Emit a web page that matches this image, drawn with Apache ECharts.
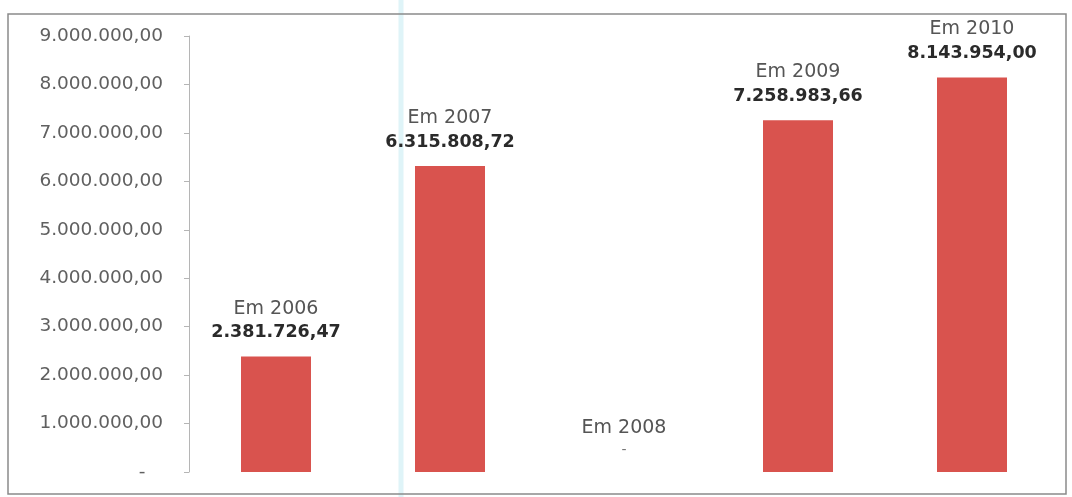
<!DOCTYPE html>
<html>
<head>
<meta charset="utf-8">
<script src="https://cdn.jsdelivr.net/npm/echarts@6/dist/echarts.min.js"></script>
<style>
  html, body { margin: 0; padding: 0; background: #ffffff; }
  #chart { width: 1072px; height: 497px; }
</style>
</head>
<body>
<div id="chart"></div>
<script>
// Annual amounts, one bar per year
const years = ['2006', '2007', '2008', '2009', '2010'];
const amounts = [2381726.47, 6315808.72, 0, 7258983.66, 8143954.00];
const yTicks = [0, 1000000, 2000000, 3000000, 4000000, 5000000, 6000000, 7000000, 8000000, 9000000];

// Brazilian number format: 1.234.567,89 ; zero shown as "-"
function fmtBR(v) {
  if (v === 0) return '-';
  const parts = v.toFixed(2).split('.');
  const intPart = parts[0].replace(/\B(?=(\d{3})+(?!\d))/g, '.');
  return intPart + ',' + parts[1];
}

const FONT = '"DejaVu Sans", "Open Sans", sans-serif';
const chart = echarts.init(document.getElementById('chart'), null, { renderer: 'canvas' });

chart.setOption({
  animation: false,
  backgroundColor: '#ffffff',
  grid: { left: 189, right: 13, top: 36, bottom: 25, containLabel: false },
  graphic: [
    {
      type: 'rect',
      shape: { x: 8, y: 14, width: 1058, height: 480 },
      style: { fill: 'none', stroke: '#8a8a8a', lineWidth: 1.5 },
      silent: true
    },
    {
      type: 'line',
      shape: { x1: 401, y1: 0, x2: 401, y2: 497 },
      style: { stroke: '#dff4f8', lineWidth: 5 },
      silent: true,
      z: -1
    }
  ],
  xAxis: {
    type: 'category',
    data: years,
    axisLine: { show: false },
    axisTick: { show: false },
    axisLabel: { show: false }
  },
  yAxis: {
    type: 'value',
    min: yTicks[0],
    max: yTicks[yTicks.length - 1],
    interval: yTicks[1] - yTicks[0],
    splitLine: { show: false },
    axisLine: { show: true, lineStyle: { color: '#b5b5b5', width: 1 } },
    axisTick: { show: true, length: 5, lineStyle: { color: '#b5b5b5' } },
    axisLabel: {
      margin: 26,
      color: '#606060',
      fontFamily: FONT,
      fontSize: 18.5,
      formatter: function (v) { return v === 0 ? '-   ' : fmtBR(v); }
    }
  },
  series: [{
    type: 'bar',
    data: amounts,
    barWidth: 70,
    itemStyle: { color: '#d9534e' },
    label: {
      show: true,
      position: 'top',
      distance: 12,
      formatter: function (p) {
        return '{a|Em ' + years[p.dataIndex] + '}\n' +
          (p.value === 0 ? '{c|-}' : '{b|' + fmtBR(p.value) + '}');
      },
      rich: {
        a: { fontFamily: FONT, fontSize: 19, color: '#555555', lineHeight: 24, align: 'center' },
        b: { fontFamily: FONT, fontSize: 17.5, fontWeight: 'bold', color: '#2a2a2a', lineHeight: 24, align: 'center' },
        c: { fontFamily: FONT, fontSize: 14, color: '#777777', lineHeight: 20, align: 'center' }
      }
    }
  }]
});
</script>
</body>
</html>
